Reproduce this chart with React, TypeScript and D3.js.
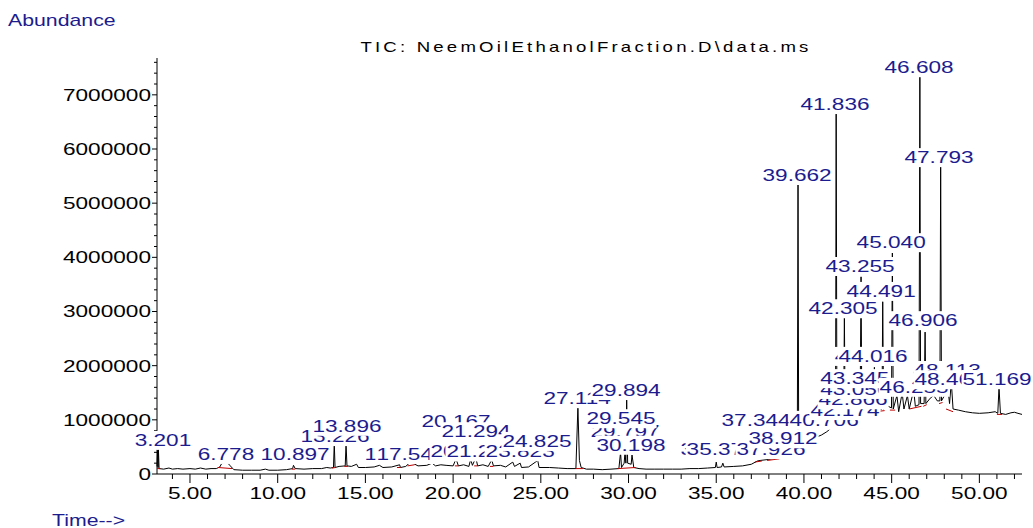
import React from 'react';
import * as d3 from 'd3';

const W = 1033;
const H = 528;
const margin = { top: 58, right: 11, bottom: 54, left: 157 };
const font = '"Liberation Sans", Arial, sans-serif';
const blue = '#1c1c8e';
const stretch = 1.33; // the source renders its text wider than normal

// TIC trace: [retention time (min), abundance]
const trace: [number, number][] = [
  [3.12, 140000], [3.16, 440000], [3.18, 120000], [3.2, 460000], [3.24, 100000],
  [3.5, 90000], [3.8, 110000], [4.0, 90000], [4.3, 100000], [4.6, 90000],
  [5.0, 100000], [5.3, 90000], [5.6, 110000], [5.9, 90000], [6.2, 100000],
  [6.5, 100000], [6.7, 130000], [6.8, 190000], [6.9, 200000], [7.1, 220000],
  [7.3, 150000], [7.5, 80000], [8.0, 70000], [8.5, 70000], [9.0, 70000],
  [9.3, 90000], [9.5, 70000], [10.0, 70000], [10.5, 80000], [10.85, 100000],
  [10.9, 160000], [11.0, 100000], [11.5, 90000], [12.0, 100000], [12.5, 100000],
  [12.8, 120000], [13.0, 110000], [13.18, 120000], [13.226, 570000], [13.27, 120000],
  [13.5, 140000], [13.85, 150000], [13.896, 550000], [13.95, 150000], [14.2, 140000],
  [14.5, 180000], [14.6, 120000], [15.0, 120000], [15.5, 130000], [15.8, 160000],
  [16.0, 120000], [16.5, 130000], [16.95, 170000], [17.0, 120000], [17.3, 140000],
  [17.5, 200000], [17.7, 200000], [18.0, 150000], [18.5, 160000], [18.8, 200000],
  [19.0, 150000], [19.3, 170000], [19.6, 160000], [20.0, 150000], [20.167, 280000],
  [20.3, 150000], [20.6, 170000], [20.9, 140000], [21.0, 270000], [21.1, 160000],
  [21.294, 300000], [21.4, 150000], [21.7, 170000], [22.0, 140000], [22.2, 260000],
  [22.3, 150000], [22.7, 160000], [23.0, 130000], [23.4, 220000], [23.5, 140000],
  [23.823, 200000], [23.9, 120000], [24.3, 130000], [24.825, 250000], [24.9, 120000],
  [25.5, 120000], [26.0, 110000], [26.5, 100000], [27.0, 100000], [27.114, 1240000],
  [27.2, 250000], [27.3, 120000], [27.6, 90000], [28.0, 90000], [28.5, 80000],
  [29.0, 90000], [29.45, 100000], [29.545, 400000], [29.6, 120000], [29.75, 200000],
  [29.797, 400000], [29.85, 200000], [29.894, 1380000], [29.95, 200000], [30.15, 180000],
  [30.198, 350000], [30.3, 120000], [30.6, 100000], [31.0, 90000], [31.5, 90000],
  [32.0, 90000], [32.5, 90000], [33.0, 90000], [33.5, 100000], [34.0, 100000],
  [34.5, 110000], [34.95, 120000], [35.0, 220000], [35.05, 120000], [35.3, 130000],
  [35.376, 200000], [35.45, 130000], [36.0, 140000], [36.5, 150000], [37.0, 180000],
  [37.344, 240000], [37.5, 250000], [38.0, 270000], [38.5, 300000], [38.912, 330000],
  [39.2, 380000], [39.5, 420000], [39.62, 450000], [39.662, 5340000], [39.7, 500000],
  [40.0, 580000], [40.3, 620000], [40.706, 680000], [41.0, 720000], [41.3, 780000],
  [41.6, 860000], [41.8, 900000], [41.836, 6670000], [41.88, 930000], [42.0, 960000],
  [42.174, 1050000], [42.26, 1030000], [42.305, 2900000], [42.35, 1030000], [42.6, 1040000],
  [42.8, 1050000], [42.866, 1350000], [42.93, 1050000], [43.2, 1150000], [43.255, 3640000],
  [43.3, 1150000], [43.345, 1500000], [43.4, 1150000], [43.7, 1200000], [43.96, 1180000],
  [44.016, 1970000], [44.06, 1180000], [44.3, 1200000], [44.45, 1200000], [44.491, 3180000],
  [44.54, 1200000], [44.8, 1250000], [44.99, 1220000], [45.04, 4080000], [45.09, 1200000],
  [45.3, 1450000], [45.4, 1150000], [45.6, 1500000], [45.7, 1200000], [45.9, 1450000],
  [46.0, 1200000], [46.255, 1550000], [46.35, 1250000], [46.56, 1280000], [46.608, 7330000],
  [46.65, 1300000], [46.85, 1300000], [46.906, 2620000], [46.95, 1300000], [47.2, 1400000],
  [47.4, 1450000], [47.6, 1350000], [47.75, 1350000], [47.793, 5670000], [47.84, 1350000],
  [48.1, 1500000], [48.2, 1600000], [48.3, 1300000], [48.4, 1700000], [48.5, 1200000],
  [48.8, 1180000], [49.2, 1150000], [49.6, 1130000], [50.0, 1120000], [50.5, 1130000],
  [50.9, 1150000], [51.05, 1120000], [51.12, 1600000], [51.2, 1120000], [51.5, 1100000],
  [51.8, 1130000], [52.0, 1140000], [52.2, 1120000], [52.43, 1100000],
];

// integration baselines: [t start, t end, abundance start, abundance end]
const baselines: [number, number, number, number][] = [
  [3.12, 3.3, 100000, 100000], [6.6, 7.4, 120000, 100000], [10.8, 11.0, 90000, 90000],
  [13.1, 13.3, 110000, 120000], [13.8, 14.0, 140000, 140000], [16.8, 17.0, 120000, 120000],
  [17.4, 17.8, 150000, 170000], [20.1, 20.3, 150000, 150000], [21.2, 21.4, 150000, 150000],
  [22.1, 22.3, 140000, 140000], [27.0, 27.4, 100000, 100000], [29.4, 30.4, 100000, 120000],
  [37.2, 37.6, 220000, 240000], [37.9, 38.6, 250000, 280000], [38.8, 39.5, 300000, 400000],
  [39.6, 39.8, 450000, 500000], [41.7, 42.0, 880000, 950000], [42.2, 42.5, 1000000, 1020000],
  [42.8, 43.0, 1020000, 1050000], [43.2, 43.5, 1100000, 1120000], [44.0, 44.6, 1150000, 1170000],
  [44.9, 45.2, 1180000, 1180000], [46.0, 46.7, 1200000, 1250000], [46.8, 47.0, 1250000, 1280000],
  [47.7, 47.9, 1300000, 1320000], [48.1, 48.5, 1200000, 1150000], [51.0, 51.3, 1100000, 1100000],
];

// peak labels in drawing order: [text, time at label centre, abundance at label centre]
const peakLabels: [string, number, number][] = [
  ['3.201', 3.46, 630000], ['6.778', 7.05, 370000], ['10.897', 10.99, 370000],
  ['13.226', 13.27, 700000], ['13.896', 13.95, 890000], ['16.956', 16.92, 370000],
  ['17.546', 17.6, 370000], ['20.167', 20.17, 980000], ['20.222', 20.68, 420000],
  ['21.222', 21.59, 420000], ['21.294', 21.31, 790000], ['23.823', 23.82, 420000],
  ['24.825', 24.78, 610000], ['27.114', 27.07, 1400000], ['29.797', 29.8, 790000],
  ['29.545', 29.57, 1030000], ['29.894', 29.86, 1550000], ['30.198', 30.14, 540000],
  ['34.958', 34.93, 460000], ['35.376', 35.28, 460000], ['37.926', 38.12, 460000],
  ['38.912', 38.81, 660000], ['37.344', 37.27, 1000000], ['40.706', 41.15, 1000000],
  ['42.174', 42.34, 1180000], ['42.866', 42.8, 1380000], ['43.056', 42.9, 1570000],
  ['43.345', 42.9, 1770000], ['46.255', 46.28, 1610000], ['48.113', 48.16, 1920000],
  ['48.465', 48.27, 1750000], ['51.169', 51.01, 1750000], ['43.672', 43.72, 2180000],
  ['44.016', 43.94, 2180000], ['46.906', 46.79, 2840000], ['42.305', 42.23, 3060000],
  ['44.491', 44.4, 3380000], ['43.255', 43.2, 3840000], ['45.040', 44.97, 4280000],
  ['47.793', 47.7, 5850000], ['39.662', 39.61, 5520000], ['41.836', 41.77, 6830000],
  ['46.608', 46.56, 7510000],
];

const xTicks = [5, 10, 15, 20, 25, 30, 35, 40, 45, 50];
const yTicks = [0, 1000000, 2000000, 3000000, 4000000, 5000000, 6000000, 7000000];

const labelSize = 17;
const textWidth = (s: string, size: number) =>
  s.split('').reduce((w, c) => w + (c === '.' ? 0.278 : 0.556), 0) * size * stretch;

export default function App() {
  const x = d3.scaleLinear().domain([3.12, 52.43]).range([margin.left, W - margin.right]);
  const y = d3.scaleLinear().domain([0, 7680000]).range([H - margin.bottom, margin.top]);
  const line = d3.line<[number, number]>().x(d => x(d[0])).y(d => y(d[1]));
  const x0 = x.range()[0];
  const y0 = y.range()[0];
  const minorX = d3.range(4, 53, 1);
  const minorY = d3.range(0, 7680000, 200000);

  return (
    <svg width={W} height={H} style={{ position: 'absolute', left: 0, top: 0, background: '#fff' }}
      fontFamily={font}>
      <text transform={`translate(8,20) scale(${stretch},1)`} fontSize={16} fill={blue}
        dominantBaseline="central">Abundance</text>
      <text transform={`translate(586,47) scale(${stretch},1)`} fontSize={14} textAnchor="middle"
        letterSpacing={2.4} dominantBaseline="central">TIC: NeemOilEthanolFraction.D\data.ms</text>
      <text transform={`translate(52,520) scale(${stretch},1)`} fontSize={16} fill={blue}
        dominantBaseline="central">Time--&gt;</text>

      {/* axes */}
      <line x1={x0} x2={x0} y1={margin.top} y2={y0} stroke="#000" />
      <line x1={x0} x2={x.range()[1]} y1={y0} y2={y0} stroke="#000" />
      {minorY.map(v => (
        <line key={'my' + v} x1={x0 - (v % 1000000 === 0 ? 5 : 3)} x2={x0} y1={y(v)} y2={y(v)} stroke="#000" />
      ))}
      {yTicks.map(v => (
        <text key={'yt' + v} transform={`translate(${x0 - 6},${y(v)}) scale(${stretch},1)`}
          fontSize={17} textAnchor="end" dominantBaseline="central">{d3.format('d')(v)}</text>
      ))}
      {minorX.map(t => (
        <line key={'mx' + t} x1={x(t)} x2={x(t)} y1={y0} y2={y0 + (t % 5 === 0 ? 9 : 5)} stroke="#000" />
      ))}
      {xTicks.map(t => (
        <text key={'xt' + t} transform={`translate(${x(t)},${y0 + 19}) scale(${stretch},1)`}
          fontSize={17} textAnchor="middle" dominantBaseline="central">{d3.format('.2f')(t)}</text>
      ))}

      {/* chromatogram */}
      <path d={line(trace) ?? ''} fill="none" stroke="#000" strokeWidth={1} />
      {baselines.map((b, i) => (
        <line key={'b' + i} x1={x(b[0])} x2={x(b[1])} y1={y(b[2])} y2={y(b[3])} stroke="#c00000" />
      ))}

      {/* peak labels with opaque backgrounds */}
      {peakLabels.map(([s, t, v], i) => {
        const w = textWidth(s, labelSize);
        return (
          <g key={'pl' + i}>
            <rect x={x(t) - w / 2 - 1} y={y(v) - 9} width={w + 2} height={19} fill="#fff" />
            <text transform={`translate(${x(t)},${y(v)}) scale(${stretch},1)`} fontSize={labelSize}
              textAnchor="middle" dominantBaseline="central" fill={blue}>{s}</text>
          </g>
        );
      })}
    </svg>
  );
}
